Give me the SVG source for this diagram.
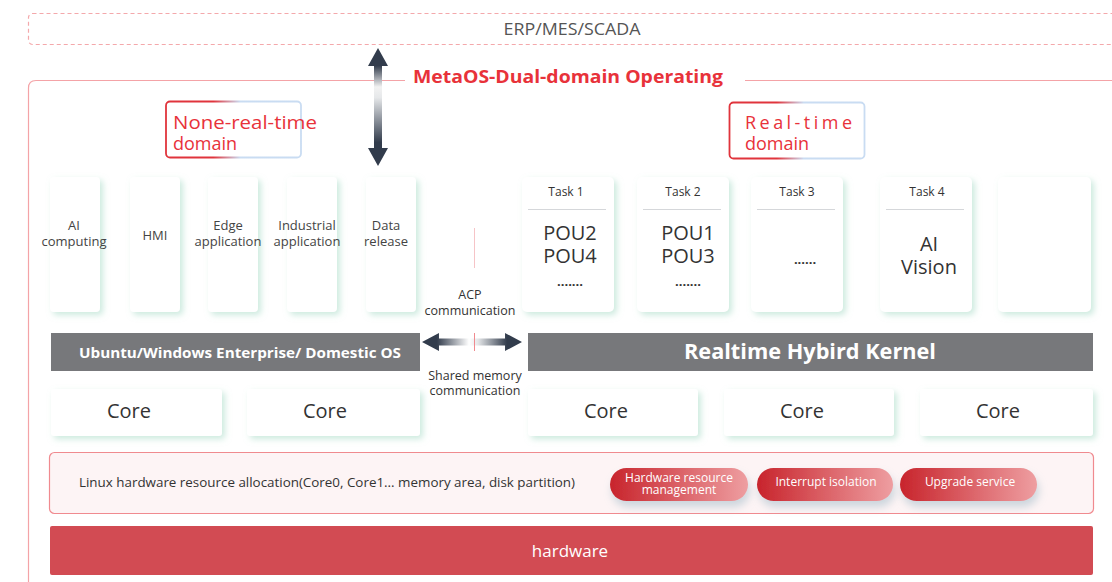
<svg xmlns="http://www.w3.org/2000/svg" width="1112" height="582" viewBox="0 0 1112 582">
<defs>
<style>
text{font-family:"Open Sans","Noto Sans","Liberation Sans",sans-serif;}
.app{font-size:13px;fill:#444;text-anchor:middle;}
.task{font-size:12px;fill:#333;text-anchor:middle;}
.pou{font-size:20px;fill:#333;text-anchor:middle;}
.dots{font-size:13px;fill:#333;text-anchor:middle;font-weight:bold;}
.core{font-size:20px;fill:#333;text-anchor:middle;}
.card{fill:#fff;filter:url(#sh);}
.sep{stroke:#d5d7da;stroke-width:1.2;}
.dom{font-size:18px;fill:#e8323a;}
.pilltxt{font-size:12px;fill:#fff;text-anchor:middle;}
.comm{font-size:12.5px;fill:#333;text-anchor:middle;}
</style>
<filter id="sh" x="-30%" y="-30%" width="160%" height="160%">
<feDropShadow dx="3" dy="3" stdDeviation="3" flood-color="#a9dcc8" flood-opacity="0.6"/>
</filter>
<filter id="psh" x="-20%" y="-30%" width="140%" height="190%">
<feDropShadow dx="2" dy="6" stdDeviation="4" flood-color="#8fb0bf" flood-opacity="0.45"/>
</filter>
<linearGradient id="domg" x1="0" y1="0" x2="1" y2="0">
<stop offset="0" stop-color="#e0343c"/>
<stop offset="0.35" stop-color="#e0343c"/>
<stop offset="0.55" stop-color="#c9dcf2"/>
<stop offset="1" stop-color="#c9dcf2"/>
</linearGradient>
<linearGradient id="pill" x1="0" y1="0" x2="1" y2="0">
<stop offset="0" stop-color="#c8242c"/>
<stop offset="1" stop-color="#ee9ea1"/>
</linearGradient>
<linearGradient id="varr" x1="0" y1="48" x2="0" y2="166" gradientUnits="userSpaceOnUse">
<stop offset="0" stop-color="#323c4c"/>
<stop offset="0.15" stop-color="#323c4c"/>
<stop offset="0.33" stop-color="#f2f2f2"/>
<stop offset="0.42" stop-color="#e6e8ea"/>
<stop offset="0.8" stop-color="#323c4c"/>
<stop offset="1" stop-color="#323c4c"/>
</linearGradient>
<linearGradient id="harr" x1="422" y1="0" x2="522" y2="0" gradientUnits="userSpaceOnUse">
<stop offset="0" stop-color="#323c4c"/>
<stop offset="0.15" stop-color="#323c4c"/>
<stop offset="0.47" stop-color="#ffffff"/>
<stop offset="0.56" stop-color="#e4e6e8"/>
<stop offset="0.85" stop-color="#323c4c"/>
<stop offset="1" stop-color="#323c4c"/>
</linearGradient>
</defs>

<rect width="1112" height="582" fill="#fff"/>

<g id="erp">
<rect x="28.5" y="13.5" width="1100" height="31" rx="4" fill="none" stroke="#f4a8ab" stroke-width="1.2" stroke-dasharray="4 3"/>
<text x="572" y="34.5" font-size="16" fill="#555" text-anchor="middle" textLength="137" lengthAdjust="spacingAndGlyphs">ERP/MES/SCADA</text>
</g>

<g id="metaos-frame">
<path d="M405 80.5 H36 Q28.5 80.5 28.5 88 V590" fill="none" stroke="#f4a3a7" stroke-width="1.2"/>
<path d="M745 80.5 H1120" fill="none" stroke="#f4a3a7" stroke-width="1.2"/>
<text x="568" y="83" font-size="18.5" font-weight="bold" fill="#e8323a" text-anchor="middle" textLength="310" lengthAdjust="spacingAndGlyphs">MetaOS-Dual-domain Operating</text>
</g>

<g id="nrt-domain">
<rect x="166" y="101.5" width="135" height="56" rx="4" fill="#fff" stroke="url(#domg)" stroke-width="1.8"/>
<text class="dom" x="173" y="129" textLength="144" lengthAdjust="spacingAndGlyphs">None-real-time</text>
<text class="dom" x="173" y="150">domain</text>
</g>

<g id="rt-domain">
<rect x="729.5" y="102.5" width="135" height="56" rx="4" fill="#fff" stroke="url(#domg)" stroke-width="1.8"/>
<text class="dom" x="745" y="129" textLength="107" lengthAdjust="spacing">Real-time</text>
<text class="dom" x="745" y="150">domain</text>
</g>

<g id="app-ai">
<rect class="card" x="50" y="177" width="50" height="135" rx="4"/>
<text class="app" x="74" y="230">AI</text>
<text class="app" x="74" y="246">computing</text>
</g>
<g id="app-hmi">
<rect class="card" x="130" y="177" width="50" height="135" rx="4"/>
<text class="app" x="155" y="240">HMI</text>
</g>
<g id="app-edge">
<rect class="card" x="208" y="177" width="50" height="135" rx="4"/>
<text class="app" x="228" y="230">Edge</text>
<text class="app" x="228" y="246">application</text>
</g>
<g id="app-industrial">
<rect class="card" x="287" y="177" width="50" height="135" rx="4"/>
<text class="app" x="307" y="230">Industrial</text>
<text class="app" x="307" y="246">application</text>
</g>
<g id="app-data">
<rect class="card" x="366" y="177" width="50" height="135" rx="4"/>
<text class="app" x="386" y="230">Data</text>
<text class="app" x="386" y="246">release</text>
</g>

<g id="task1">
<rect class="card" x="522" y="177" width="92" height="135" rx="5"/>
<text class="task" x="566" y="196">Task 1</text>
<line class="sep" x1="528" y1="209.5" x2="606" y2="209.5"/>
<text class="pou" x="570" y="240">POU2</text>
<text class="pou" x="570" y="263">POU4</text>
<text class="dots" x="570" y="286">.......</text>
</g>
<g id="task2">
<rect class="card" x="637" y="177" width="92" height="135" rx="5"/>
<text class="task" x="683" y="196">Task 2</text>
<line class="sep" x1="643" y1="209.5" x2="721" y2="209.5"/>
<text class="pou" x="688" y="240">POU1</text>
<text class="pou" x="688" y="263">POU3</text>
<text class="dots" x="688" y="286">.......</text>
</g>
<g id="task3">
<rect class="card" x="751" y="177" width="92" height="135" rx="5"/>
<text class="task" x="797" y="196">Task 3</text>
<line class="sep" x1="757" y1="209.5" x2="835" y2="209.5"/>
<text class="dots" x="805" y="264">......</text>
</g>
<g id="task4">
<rect class="card" x="880" y="177" width="92" height="135" rx="5"/>
<text class="task" x="927" y="196">Task 4</text>
<line class="sep" x1="886" y1="209.5" x2="964" y2="209.5"/>
<text class="pou" x="929" y="251">AI</text>
<text class="pou" x="929" y="274">Vision</text>
</g>
<g id="task5">
<rect class="card" x="998" y="177" width="93" height="135" rx="5"/>
</g>

<g id="acp-label">
<line x1="474.5" y1="228" x2="474.5" y2="268" stroke="#f6c4c7" stroke-width="1"/>
<text class="comm" x="470" y="299">ACP</text>
<text class="comm" x="470" y="315">communication</text>
</g>

<g id="os-bar">
<rect x="51" y="333" width="369" height="38" fill="#77787b"/>
<text x="240" y="358" font-size="14" font-weight="bold" fill="#fff" text-anchor="middle" textLength="322" lengthAdjust="spacingAndGlyphs">Ubuntu/Windows Enterprise/ Domestic OS</text>
</g>
<g id="kernel-bar">
<rect x="528" y="333" width="565" height="38" fill="#77787b"/>
<text x="810" y="359" font-size="21" font-weight="bold" fill="#fff" text-anchor="middle" textLength="252" lengthAdjust="spacingAndGlyphs">Realtime Hybird Kernel</text>
</g>

<g id="shm-label">
<text class="comm" x="475" y="380">Shared memory</text>
<text class="comm" x="475" y="395">communication</text>
</g>

<g id="core1"><rect class="card" x="51" y="389" width="171" height="47" rx="3"/><text class="core" x="129" y="418">Core</text></g>
<g id="core2"><rect class="card" x="247" y="389" width="173" height="47" rx="3"/><text class="core" x="325" y="418">Core</text></g>
<g id="core3"><rect class="card" x="528" y="389" width="170" height="47" rx="3"/><text class="core" x="606" y="418">Core</text></g>
<g id="core4"><rect class="card" x="724" y="389" width="170" height="47" rx="3"/><text class="core" x="802" y="418">Core</text></g>
<g id="core5"><rect class="card" x="920" y="389" width="173" height="47" rx="3"/><text class="core" x="998" y="418">Core</text></g>

<g id="linux-layer">
<rect x="49.5" y="452.5" width="1044" height="61" rx="5" fill="#fdf4f5" stroke="#f08a8f" stroke-width="1.2"/>
<text x="79" y="487" font-size="13" fill="#333" textLength="496" lengthAdjust="spacingAndGlyphs">Linux hardware resource allocation(Core0, Core1... memory area, disk partition)</text>
</g>
<g id="hw-resource-mgmt">
<rect x="610" y="468" width="138" height="33" rx="16.5" fill="url(#pill)" filter="url(#psh)"/>
<text class="pilltxt" x="679" y="481.5">Hardware resource</text>
<text class="pilltxt" x="679" y="494">management</text>
</g>
<g id="interrupt-isolation">
<rect x="757" y="468" width="136" height="33" rx="16.5" fill="url(#pill)" filter="url(#psh)"/>
<text class="pilltxt" x="826" y="486">Interrupt isolation</text>
</g>
<g id="upgrade-service">
<rect x="900" y="468" width="137" height="33" rx="16.5" fill="url(#pill)" filter="url(#psh)"/>
<text class="pilltxt" x="970" y="486">Upgrade service</text>
</g>

<g id="hardware">
<rect x="50" y="526" width="1043" height="49" rx="2" fill="#d24b53"/>
<text x="570" y="557" font-size="17" fill="#fff" text-anchor="middle">hardware</text>
</g>

<g id="connectors">
<path d="M378 48 L388 66 L382 66 L382 148 L388 148 L378 166 L368 148 L374 148 L374 66 L368 66 Z" fill="url(#varr)"/>
<path d="M422 342 L439 333 L439 338.5 L505 338.5 L505 333 L522 342 L505 351 L505 345.5 L439 345.5 L439 351 Z" fill="url(#harr)"/>
<line x1="474.5" y1="333" x2="474.5" y2="351" stroke="#f08a8f" stroke-width="1"/>
</g>
</svg>
